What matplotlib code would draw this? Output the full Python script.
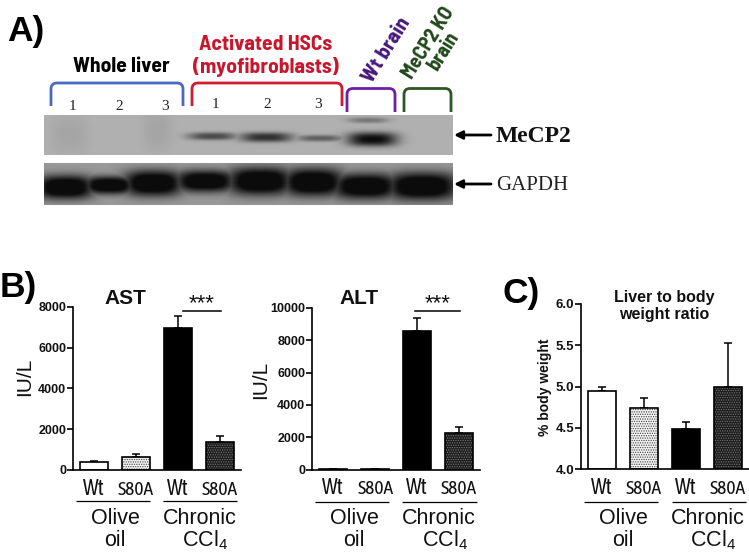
import numpy as np
import matplotlib
matplotlib.use("Agg")
import matplotlib.pyplot as plt
from matplotlib.path import Path
from matplotlib.patches import PathPatch

W, H = 749, 554
plt.rcParams['font.family'] = ['Liberation Sans', 'DejaVu Sans']
plt.rcParams['mathtext.default'] = 'regular'
plt.rcParams['hatch.linewidth'] = 0.6

# ---------- data ----------
conditions = ["Wt", "S80A", "Wt", "S80A"]
ast_mean = [407, 635, 6941, 1352]
ast_err = [15, 147, 603, 310]
alt_mean = [30, 40, 8571, 2236]
alt_err = [5, 10, 787, 373]
ratio_mean = [4.94, 4.74, 4.49, 5.00]
ratio_err = [0.06, 0.117, 0.076, 0.53]
ast_ticks = [0, 2000, 4000, 6000, 8000]
alt_ticks = [0, 2000, 4000, 6000, 8000, 10000]
ratio_ticks = [4.0, 4.5, 5.0, 5.5, 6.0]
lanes = ["1", "2", "3"]
mecp2_band_strength = [0.62, 0.78, 0.50, 1.0]
gapdh_band_strength = [1.0, 0.97, 1.0, 0.97, 1.0, 1.0, 0.97, 1.0]

NARROW = ['Asap Condensed', 'Liberation Sans']
HEAD = ['Barlow Semi Condensed', 'Liberation Sans']
fig = plt.figure(figsize=(W / 100, H / 100), dpi=100, facecolor='white')

# overlay in image pixel coordinates
ov = fig.add_axes([0, 0, 1, 1], zorder=5)
ov.axis('off')
ov.patch.set_alpha(0)


def band(xx, yy, cx, cy, hw, hh):
    return np.exp(-np.abs((xx - cx) / hw) ** 3.0) * np.exp(-np.abs((yy - cy) / hh) ** 2.6)


# ---------- panel A: blot ----------
BX0, BX1 = 44, 453


def blot_panel(y0, y1, bg):
    xx, yy = np.meshgrid(np.arange(BX0, BX1, 0.5), np.arange(y0, y1, 0.5))
    return xx, yy, np.full(xx.shape, bg, dtype=float)


xx, yy, top = blot_panel(115, 155, 0.69)
dark = np.zeros_like(top)
for s, cx, cy, hw, hh in zip(mecp2_band_strength, [212, 266, 320, 372], [136, 137, 138, 139],
                             [24, 26, 23, 25], [3.8, 4.8, 3.2, 7]):
    dark = np.maximum(dark, s * band(xx, yy, cx, cy, hw, hh))
dark = np.maximum(dark, 0.35 * band(xx, yy, 368, 120, 20, 2.8))
dark = np.maximum(dark, 0.07 * band(xx, yy, 70, 135, 18, 18))
dark = np.maximum(dark, 0.07 * band(xx, yy, 157, 130, 14, 20))
top = top * (1 - 0.93 * dark)
ov.imshow(top, extent=(BX0, BX1, 155, 115), cmap='gray', vmin=0, vmax=1,
          aspect='auto', interpolation='bilinear', zorder=1)

xx, yy, bot = blot_panel(163, 205, 0.60)
dark = np.zeros_like(bot)
for s, cx, cy, hw, hh in zip(gapdh_band_strength, [65, 109, 153, 205, 260, 313, 365, 422],
                             [187, 185, 183, 181, 181, 182, 186, 186],
                             [29, 26, 30, 31, 33, 31, 34, 36], [12, 9, 13, 11, 14, 14, 13, 14]):
    dark = np.maximum(dark, s * band(xx, yy, cx, cy, hw, hh))
bot = bot * (1 - 0.92 * np.clip(dark * 1.3, 0, 1))
ov.imshow(bot, extent=(BX0, BX1, 205, 163), cmap='gray', vmin=0, vmax=1,
          aspect='auto', interpolation='bilinear', zorder=1)
ov.set_xlim(0, W)
ov.set_ylim(H, 0)


def bracket(x0, x1, ytop, ybot, color, r=6):
    verts = [(x0, ybot), (x0, ytop + r), (x0, ytop), (x0 + r, ytop), (x1 - r, ytop),
             (x1, ytop), (x1, ytop + r), (x1, ybot)]
    codes = [Path.MOVETO, Path.LINETO, Path.CURVE3, Path.CURVE3, Path.LINETO,
             Path.CURVE3, Path.CURVE3, Path.LINETO]
    ov.add_patch(PathPatch(Path(verts, codes), fill=False, edgecolor=color, lw=2.0, zorder=3))


bracket(51, 183, 83, 106, '#4a68c4')
bracket(192, 342, 83, 106, '#d01c2e')
bracket(347, 395, 88.5, 112, '#6a1fa6')
bracket(404, 451, 88.5, 112, '#2e5524')

for lab, x in zip(lanes, [72, 119, 165]):
    ov.text(x, 106, lab, family='Liberation Serif', fontsize=11, ha='center', va='center', color='#222222')
for lab, x in zip(lanes, [215, 267, 318]):
    ov.text(x, 105, lab, family='Liberation Serif', fontsize=11, ha='center', va='center', color='#222222')

HFS = 15.5
ov.text(121, 67, "Whole liver", family=HEAD, weight='bold', fontsize=HFS, ha='center', va='center', color='black')
ov.text(266, 45, "Activated HSCs", family=HEAD, weight='bold', fontsize=HFS, ha='center', va='center', color='#c8172c')
ov.text(266, 67, "(myofibroblasts)", family=HEAD, weight='bold', fontsize=HFS, ha='center', va='center', color='#c8172c')
ov.text(387, 50, "Wt brain", family=HEAD, weight='bold', fontsize=HFS, rotation=58, ha='center', va='center',
        rotation_mode='anchor', color='#45197a')
ov.text(436, 47, "MeCP2 KO\nbrain", family=HEAD, weight='bold', fontsize=14.5, rotation=58, ha='center', va='center',
        rotation_mode='anchor', color='#1f4719', linespacing=0.85, multialignment='center')

ov.text(496, 136, "MeCP2", family='Liberation Serif', weight='bold', fontsize=17, ha='left', va='center', color='#111111')
ov.text(496, 185, "GAPDH", family='Liberation Serif', fontsize=15, ha='left', va='center', color='#222222')
for y in (135, 184):
    ov.annotate("", xy=(454, y), xytext=(491, y),
                arrowprops=dict(arrowstyle='-|>', color='black', lw=2, mutation_scale=12, shrinkA=0, shrinkB=0))

for s, x, y in (("A)", 7, 31), ("B)", 0, 288), ("C)", 503, 293)):
    ov.text(x, y, s, weight='bold', fontsize=25.5, ha='left', va='center', color='black')


# ---------- panels B, C: bars ----------
def bars(x_left, x_right, y_top, y_bot, means, errs, ymin, ymax, ticks, ticklabels, tick_fs):
    ax = fig.add_axes([x_left / W, 1 - y_bot / H, (x_right - x_left) / W, (y_bot - y_top) / H], zorder=2)
    ax.patch.set_alpha(0)
    xs = np.arange(4)
    w = 0.667
    lw = 1.1
    ax.errorbar(xs, means, yerr=[[0] * 4, errs], fmt='none', ecolor='black', elinewidth=lw,
                capsize=2.9, capthick=lw, zorder=1, clip_on=False)
    ax.bar(xs[0], means[0] - ymin, w, bottom=ymin, facecolor='white', edgecolor='none', zorder=2)
    ax.bar(xs[1], means[1] - ymin, w, bottom=ymin, facecolor='#f2f2f2', edgecolor='#444444', hatch='.......', lw=0, zorder=2)
    ax.bar(xs[2], means[2] - ymin, w, bottom=ymin, facecolor='black', edgecolor='none', zorder=2)
    ax.bar(xs[3], means[3] - ymin, w, bottom=ymin, facecolor='#1c1c1c', edgecolor='#777777', hatch='.......', lw=0, zorder=2)
    ax.bar(xs, np.array(means) - ymin, w, bottom=ymin, fill=False, edgecolor='black', lw=lw + 0.1, zorder=3)
    ax.set_xlim(-0.5, 3.5)
    ax.set_ylim(ymin, ymax)
    for sp in ('top', 'right'):
        ax.spines[sp].set_visible(False)
    for sp in ('left', 'bottom'):
        ax.spines[sp].set_linewidth(1.2)
    ax.set_yticks(ticks)
    ax.set_yticklabels(ticklabels, fontsize=tick_fs, fontweight='bold', color='#111111')
    ax.tick_params(axis='y', length=4, width=1.2, pad=1)
    ax.set_xticks(xs)
    labs = ax.set_xticklabels(conditions, family=NARROW, fontsize=14, color='#111111', va='baseline')
    for lab in labs[::2]:
        lab.set_fontsize(15.5)
    ax.tick_params(axis='x', length=0, pad=18)
    return ax


bars(73, 241, 306.7, 470, ast_mean, ast_err, 0, 8000, ast_ticks, [str(t) for t in ast_ticks], 9)
bars(312.3, 480, 308, 469.5, alt_mean, alt_err, 0, 10000, alt_ticks, [str(t) for t in alt_ticks], 9)
bars(581, 749, 304, 469, ratio_mean, ratio_err, 4.0, 6.0, ratio_ticks, [f"{t:.1f}" for t in ratio_ticks], 9.5)


def groups(lx0, lx1, rx0, rx1, ly, olive_x, chronic_x, ccl_x):
    ov.plot([lx0, lx1], [ly, ly], color='black', lw=0.9, solid_capstyle='butt')
    ov.plot([rx0, rx1], [ly, ly], color='black', lw=0.9, solid_capstyle='butt')
    ov.text(olive_x, 519, "Olive", fontsize=15.5, ha='center', va='center', color='#111111')
    ov.text(olive_x, 540, "oil", fontsize=15.5, ha='center', va='center', color='#111111')
    ov.text(chronic_x, 519, "Chronic", fontsize=15.5, ha='center', va='center', color='#111111')
    ov.text(ccl_x, 540, "CCl$_4$", fontsize=15.5, ha='center', va='center', color='#111111')


groups(76, 150, 163, 237, 501, 115, 200, 205)
groups(315, 389, 402, 477, 502, 354, 439, 445)
groups(584, 658, 672, 746, 502, 623, 708, 713)

ov.text(125, 299, "AST", fontsize=15, weight='bold', ha='center', va='center', color='#111111')
ov.text(359, 299, "ALT", fontsize=15, weight='bold', ha='center', va='center', color='#111111')
ov.text(664, 306, "Liver to body\nweight ratio", fontsize=11.5, weight='bold', ha='center', va='center',
        color='#111111', linespacing=1.2)
ov.text(25, 377, "IU/L", fontsize=15, rotation=90, ha='center', va='center', color='#111111')
ov.text(261, 380, "IU/L", fontsize=15, rotation=90, ha='center', va='center', color='#111111')
ov.text(545, 387, "% body weight", fontsize=10, weight='bold', rotation=90, ha='center', va='center', color='#111111')

ov.plot([183, 221], [310.7, 310.7], color='black', lw=1.1)
ov.plot([415, 460], [311, 311], color='black', lw=1.1)
ov.text(202, 304, "***", fontsize=16, ha='center', va='center', color='#111111')
ov.text(438, 304, "***", fontsize=16, ha='center', va='center', color='#111111')

fig.savefig("out.png", dpi=100, facecolor='white')
